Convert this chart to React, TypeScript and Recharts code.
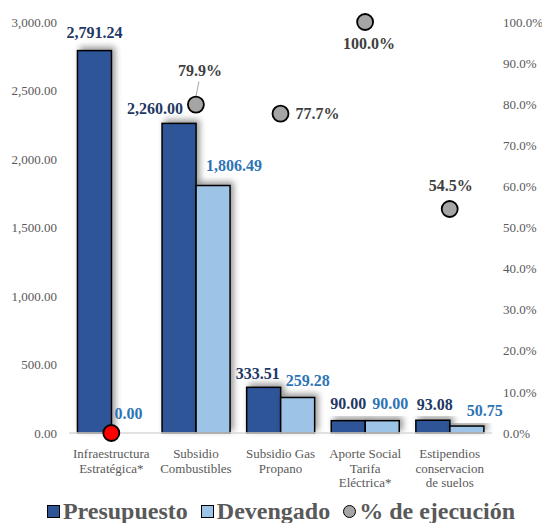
import React from "react";
import { Bar, ComposedChart, LabelList, Scatter, XAxis, YAxis } from "recharts";

const categories = [
  "Infraestructura\nEstratégica*",
  "Subsidio\nCombustibles",
  "Subsidio Gas\nPropano",
  "Aporte Social\nTarifa\nEléctrica*",
  "Estipendios\nconservacion\nde suelos",
];
const presupuesto = [2791.24, 2260.0, 333.51, 90.0, 93.08];
const devengado = [0.0, 1806.49, 259.28, 90.0, 50.75];
const ejecucion = [0.0, 79.9, 77.7, 100.0, 54.5];
const leftTicks = [0, 500, 1000, 1500, 2000, 2500, 3000];
const rightTicks = [0, 10, 20, 30, 40, 50, 60, 70, 80, 90, 100];

const data = categories.map((name, idx) => ({
  name,
  idx,
  presupuesto: presupuesto[idx],
  devengado: devengado[idx],
  pct: ejecucion[idx],
}));

// label nudges (text centre relative to top-centre of bar / centre of dot), as placed by hand in the original
const presOffsets = [[0, -18], [-24, -15], [-6, -14], [0, -17], [2, -16]];
const devOffsets = [[0, -20], [21, -20], [10, -17], [8, -17], [18, -16]];
const pctOffsets = [null, [4, -34], [37, 0], [4, 21], [1, -24]];

const FONT = "'Liberation Serif', 'Times New Roman', serif";
const DARK_BLUE = "#2F5597";
const LIGHT_BLUE = "#9DC3E6";

const fmt2 = (v: number) =>
  v.toLocaleString("en-US", { minimumFractionDigits: 2, maximumFractionDigits: 2 });

const makeBarLabel = (offsets: number[][], color: string) => (props: any) => {
  const { x, y, width, value, index } = props;
  const [dx, dy] = offsets[index] || [0, -16];
  return (
    <text
      x={Number(x) + Number(width) / 2 + dx}
      y={Number(y) + dy}
      textAnchor="middle"
      dominantBaseline="central"
      fill={color}
      fontFamily={FONT}
      fontWeight="bold"
      fontSize={16}
    >
      {fmt2(Number(value))}
    </text>
  );
};

const BarShape = (props: any) => {
  const { x, y, width, height, fill } = props;
  if (!height || height <= 0) return null;
  return (
    <rect
      x={x}
      y={y}
      width={width}
      height={height}
      fill={fill}
      stroke="#000"
      strokeWidth={1.5}
      filter="url(#barShadow)"
    />
  );
};

const PctDot = (props: any) => {
  const { cx, cy, payload } = props;
  const i = payload.idx;
  const off = pctOffsets[i];
  const isZero = payload.pct === 0;
  return (
    <g>
      {i === 1 && (
        <line x1={cx + 3} y1={cy - 23} x2={cx} y2={cy - 8} stroke="#A5A5A5" strokeWidth={1} />
      )}
      <circle
        cx={cx}
        cy={cy}
        r={8}
        fill={isZero ? "#FF0000" : "#A5A5A5"}
        stroke="#000"
        strokeWidth={1.8}
      />
      {off && (
        <text
          x={cx + off[0]}
          y={cy + off[1]}
          textAnchor="middle"
          dominantBaseline="central"
          fill="#404040"
          fontFamily={FONT}
          fontWeight="bold"
          fontSize={16}
        >
          {payload.pct.toFixed(1) + "%"}
        </text>
      )}
    </g>
  );
};

const CategoryTick = (props: any) => {
  const { x, y, payload } = props;
  const lines = String(payload.value).split("\n");
  return (
    <text x={x} y={y} textAnchor="middle" fill="#595959" fontFamily={FONT} fontSize={13}>
      {lines.map((l, i) => (
        <tspan key={i} x={x} dy={i === 0 ? 23 : 14.5}>
          {l}
        </tspan>
      ))}
    </text>
  );
};

const legendItems = [
  { label: "Presupuesto", color: DARK_BLUE, round: false },
  { label: "Devengado", color: LIGHT_BLUE, round: false },
  { label: "% de ejecución", color: "#A5A5A5", round: true },
];

function ChartLegend() {
  return (
    <div
      style={{
        position: "absolute",
        left: 10,
        top: 500,
        width: 542,
        display: "flex",
        justifyContent: "center",
        alignItems: "center",
        gap: 13,
        fontFamily: FONT,
        fontWeight: "bold",
        fontSize: 24,
        color: "#595959",
        lineHeight: "22px",
      }}
    >
      {legendItems.map((it) => (
        <div key={it.label} style={{ display: "flex", alignItems: "center", gap: 3 }}>
          <span
            style={{
              display: "inline-block",
              width: 11,
              height: 11,
              background: it.color,
              border: "1.5px solid #000",
              borderRadius: it.round ? "50%" : 0,
            }}
          />
          <span>{it.label}</span>
        </div>
      ))}
    </div>
  );
}

export default function App() {
  return (
    <div
      style={{
        position: "absolute",
        left: 0,
        top: 0,
        width: 542,
        height: 523,
        background: "#fff",
        overflow: "hidden",
      }}
    >
      <ComposedChart
        width={542}
        height={523}
        data={data}
        margin={{ top: 22, right: 5, bottom: 0, left: 9 }}
        barCategoryGap="10%"
        barGap={0}
      >
        <defs>
          <filter id="barShadow" x="-30%" y="-30%" width="160%" height="160%">
            <feDropShadow dx={3} dy={-3} stdDeviation={3} floodColor="#000" floodOpacity={0.4} />
          </filter>
        </defs>
        <XAxis
          dataKey="name"
          height={90}
          axisLine={{ stroke: "#D9D9D9", strokeWidth: 1.5 }}
          tickLine={false}
          tickSize={0}
          interval={0}
          tick={<CategoryTick />}
        />
        <YAxis
          yAxisId="left"
          width={60}
          domain={[0, 3000]}
          ticks={leftTicks}
          axisLine={false}
          tickLine={false}
          tickSize={0}
          tickMargin={12}
          tickFormatter={fmt2}
          tick={{ fill: "#595959", fontFamily: FONT, fontSize: 13 }}
        />
        <YAxis
          yAxisId="right"
          orientation="right"
          width={45}
          domain={[0, 100]}
          ticks={rightTicks}
          axisLine={false}
          tickLine={false}
          tickSize={0}
          tickMargin={11}
          tickFormatter={(v: number) => v.toFixed(1) + "%"}
          tick={{ fill: "#595959", fontFamily: FONT, fontSize: 13, textAnchor: "start" }}
        />
        <Bar
          yAxisId="left"
          dataKey="presupuesto"
          name="Presupuesto"
          fill={DARK_BLUE}
          shape={<BarShape />}
          isAnimationActive={false}
        >
          <LabelList dataKey="presupuesto" content={makeBarLabel(presOffsets, "#1F3864")} />
        </Bar>
        <Bar
          yAxisId="left"
          dataKey="devengado"
          name="Devengado"
          fill={LIGHT_BLUE}
          shape={<BarShape />}
          isAnimationActive={false}
        >
          <LabelList dataKey="devengado" content={makeBarLabel(devOffsets, "#2E75B6")} />
        </Bar>
        <Scatter
          yAxisId="right"
          dataKey="pct"
          name="% de ejecución"
          shape={<PctDot />}
          isAnimationActive={false}
        />
      </ComposedChart>
      <ChartLegend />
    </div>
  );
}
